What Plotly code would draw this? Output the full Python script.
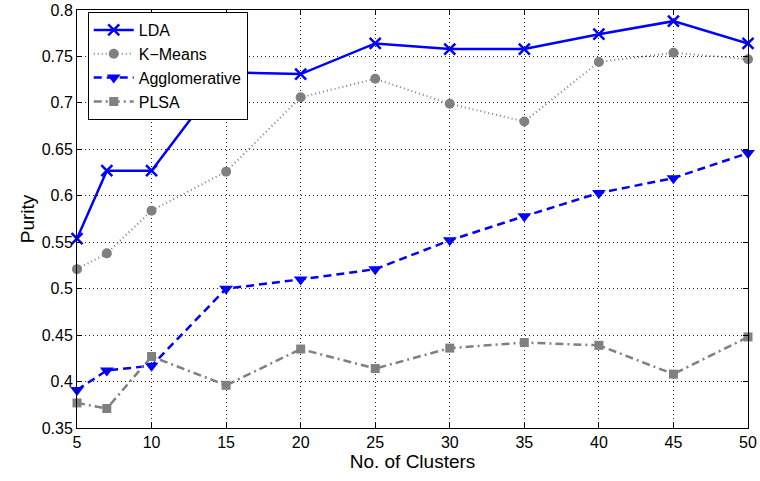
import plotly.graph_objects as go

clusters = [5, 7, 10, 15, 20, 25, 30, 35, 40, 45, 50]
lda = [0.554, 0.627, 0.627, 0.733, 0.731, 0.764, 0.758, 0.758, 0.774, 0.788, 0.764]
kmeans = [0.521, 0.538, 0.584, 0.626, 0.706, 0.726, 0.699, 0.680, 0.744, 0.754, 0.747]
agglomerative = [0.391, 0.412, 0.417, 0.500, 0.510, 0.521, 0.552, 0.578, 0.603, 0.619, 0.646]
plsa = [0.377, 0.371, 0.427, 0.396, 0.435, 0.414, 0.436, 0.442, 0.439, 0.408, 0.448]

x_ticks = [5, 10, 15, 20, 25, 30, 35, 40, 45, 50]
y_ticks = [0.35, 0.4, 0.45, 0.5, 0.55, 0.6, 0.65, 0.7, 0.75, 0.8]
y_tick_labels = ["0.35", "0.4", "0.45", "0.5", "0.55", "0.6", "0.65", "0.7", "0.75", "0.8"]

BLUE = "#0000ff"
GRAY = "#808080"
FONT = "Liberation Sans, Arial, sans-serif"

fig = go.Figure()
fig.add_trace(go.Scatter(
    x=clusters, y=lda, name="LDA", mode="lines+markers", cliponaxis=False,
    line=dict(color=BLUE, width=2.5, dash="solid"),
    marker=dict(symbol="x-thin", size=11, color=BLUE, line=dict(color=BLUE, width=2.5)),
))
fig.add_trace(go.Scatter(
    x=clusters, y=kmeans, name="K\u2212Means", mode="lines+markers", cliponaxis=False,
    line=dict(color=GRAY, width=2, dash="1px,3px"),
    marker=dict(symbol="circle", size=10, color=GRAY),
))
fig.add_trace(go.Scatter(
    x=clusters, y=agglomerative, name="Agglomerative", mode="lines+markers", cliponaxis=False,
    line=dict(color=BLUE, width=2.5, dash="8px,5px"),
    marker=dict(symbol="triangle-down", size=12, color=BLUE),
))
fig.add_trace(go.Scatter(
    x=clusters, y=plsa, name="PLSA", mode="lines+markers", cliponaxis=False,
    line=dict(color=GRAY, width=2.5, dash="8px,4px,2px,4px"),
    marker=dict(symbol="square", size=9, color=GRAY),
))

axis_common = dict(
    showline=True, linecolor="black", linewidth=1, mirror="ticks",
    ticks="inside", ticklen=5, tickcolor="black", tickwidth=1,
    showgrid=True, gridcolor="#222222", gridwidth=1, griddash="1px,3px",
    zeroline=False, automargin=False,
    tickfont=dict(family=FONT, size=16, color="black"),
)

fig.update_xaxes(
    range=[5, 50], tickvals=x_ticks, ticktext=[str(v) for v in x_ticks],
    title=dict(text="No. of Clusters", font=dict(family=FONT, size=19, color="black"), standoff=2),
    **axis_common,
)
fig.update_yaxes(
    range=[0.35, 0.8], tickvals=y_ticks, ticktext=y_tick_labels,
    title=dict(text="Purity", font=dict(family=FONT, size=19, color="black"), standoff=2),
    **axis_common,
)

fig.update_layout(
    width=760, height=481,
    margin=dict(l=77, r=12, t=10, b=53),
    paper_bgcolor="white", plot_bgcolor="white",
    showlegend=True,
    legend=dict(
        x=0.016, y=0.995, xanchor="left", yanchor="top",
        bgcolor="white", bordercolor="black", borderwidth=1,
        font=dict(family=FONT, size=16, color="black"),
        itemwidth=40, tracegroupgap=0,
    ),
)

fig.write_html(
    "out.html",
    config={"displayModeBar": False},
    post_script="document.body.style.margin='0';document.body.style.overflow='hidden';",
)
